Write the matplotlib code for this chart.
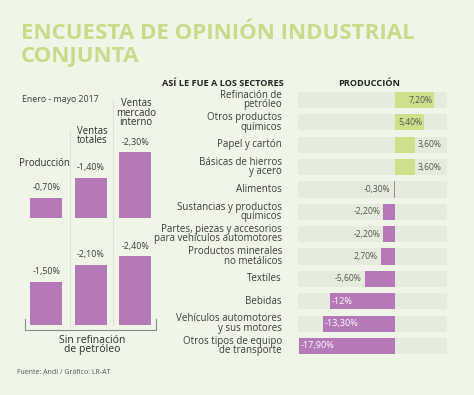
import numpy as np
import matplotlib
matplotlib.use("Agg")
import matplotlib.pyplot as plt

W, H = 474, 395

title = "ENCUESTA DE OPINIÓN INDUSTRIAL\nCONJUNTA"
period = "Enero - mayo 2017"

# left panel: national totals
groups = ["Producción", "Ventas\ntotales", "Ventas\nmercado\ninterno"]
total_vals = [-0.70, -1.40, -2.30]
no_refine_vals = [-1.50, -2.10, -2.40]

# right panel: sectors
sectors = [
    "Refinación de\npetróleo",
    "Otros productos\nquímicos",
    "Papel y cartón",
    "Básicas de hierros\ny acero",
    "Alimentos",
    "Sustancias y productos\nquímicos",
    "Partes, piezas y accesorios\npara vehículos automotores",
    "Productos minerales\nno metálicos",
    "Textiles",
    "Bebidas",
    "Vehículos automotores\ny sus motores",
    "Otros tipos de equipo\nde transporte",
]
sector_vals = [7.20, 5.40, 3.60, 3.60, -0.30, -2.20, -2.20, -2.70, -5.60, -12.0, -13.30, -17.90]
sector_labels = ["7,20%", "5,40%", "3,60%", "3,60%", "-0,30%", "-2,20%", "-2,20%",
                 "2,70%", "-5,60%", "-12%", "-13,30%", "-17,90%"]

BG = "#eff6e8"
ROW = "#e4eddb"
PURPLE = "#b679b8"
GREEN = "#cfe08c"
TITLE_GREEN = "#c6dc8a"
TXT = "#3c3c3c"
FONT = "Open Sans"

plt.rcParams["font.family"] = [FONT, "DejaVu Sans"]


def fx(x):
    return x / W


def fy(y):
    return 1 - y / H


def add_ax(left, top, right, bottom):
    return fig.add_axes([fx(left), fy(bottom), (right - left) / W, (bottom - top) / H])


def pct(v):
    return ("%.2f" % v).replace(".", ",") + "%"


fig = plt.figure(figsize=(W / 100, H / 100), dpi=100)
fig.patch.set_facecolor(BG)

fig.text(fx(21), fy(23), title, fontsize=16, fontweight="bold", color=TITLE_GREEN,
         va="top", ha="left", linespacing=1.1)

# ---- left panel
fig.text(fx(22), fy(100), period, fontsize=6.3, color=TXT, va="center")

# separators
for xs, ytop in [(70, 130), (113, 100)]:
    fig.add_artist(plt.Line2D([fx(xs), fx(xs)], [fy(ytop), fy(326)], color="#dde4d7", lw=0.8))

slot = 44.5
for vals, base in [(total_vals, 218), (no_refine_vals, 325)]:
    ax = add_ax(24, base - 90, 24 + 3 * slot, base)
    x = np.arange(len(vals))
    ax.bar(x, np.abs(vals), width=0.72, color=PURPLE)
    ax.set_xlim(-0.5, 2.5)
    ax.set_ylim(0, 90 / 28.6)
    ax.axis("off")
    for xi, v in zip(x, vals):
        ax.text(xi, abs(v) + 0.2, pct(v), ha="center", va="bottom", fontsize=6.4, color=TXT)

group_pos = [(44, 163), (92, 136), (136, 113)]
for name, (gx, gy) in zip(groups, group_pos):
    fig.text(fx(gx), fy(gy), name, fontsize=6.9, color="#2e2e2e", ha="center", va="center",
             linespacing=0.82)

# bracket
fig.add_artist(plt.Line2D([fx(25), fx(25), fx(156), fx(156)],
                          [fy(319), fy(330), fy(330), fy(319)], color="#8a8a8a", lw=0.8))
fig.text(fx(92), fy(345), "Sin refinación\nde petróleo", fontsize=7.5, color="#2e2e2e",
         ha="center", va="center", linespacing=0.82)
fig.text(fx(17), fy(373), "Fuente: Andi / Gráfico: LR-AT", fontsize=5, color="#555555",
         va="center")

# ---- right panel
fig.text(fx(162), fy(83), "ASÍ LE FUE A LOS SECTORES", fontsize=6.6, fontweight="bold",
         color="#222222", va="center")
fig.text(fx(338), fy(83), "PRODUCCIÓN", fontsize=6.6, fontweight="bold",
         color="#222222", va="center")

pitch = 22.36
ax = add_ax(298, 100 - pitch / 2, 447, 346 + pitch / 2)
n = len(sectors)
y = np.arange(n)
xmin, xmax = -18.0, 9.6
ax.barh(y, xmax - xmin, left=xmin, height=0.72, color=ROW)
colors = [GREEN if v > 0 else PURPLE for v in sector_vals]
ax.barh(y, sector_vals, height=0.72, color=colors)
ax.set_xlim(xmin, xmax)
ax.set_ylim(n - 0.5, -0.5)
ax.axis("off")

for yi, v, lab in zip(y, sector_vals, sector_labels):
    if v >= 5:
        ax.text(v - 0.3, yi, lab, ha="right", va="center", fontsize=6.2, color="#555555")
    elif v > 0:
        ax.text(v + 0.5, yi, lab, ha="left", va="center", fontsize=6.2, color="#555555")
    elif v <= -10:
        ax.text(v + 0.3, yi, lab, ha="left", va="center", fontsize=6.6, color="white")
    else:
        ax.text(v - 0.6, yi, lab, ha="right", va="center", fontsize=6.2, color="#555555")

for i, name in enumerate(sectors):
    fig.text(fx(282), fy(100 + i * pitch), name, fontsize=7.0, color=TXT, ha="right",
             va="center", linespacing=0.82)

fig.savefig("out.png", dpi=100, facecolor=BG)
